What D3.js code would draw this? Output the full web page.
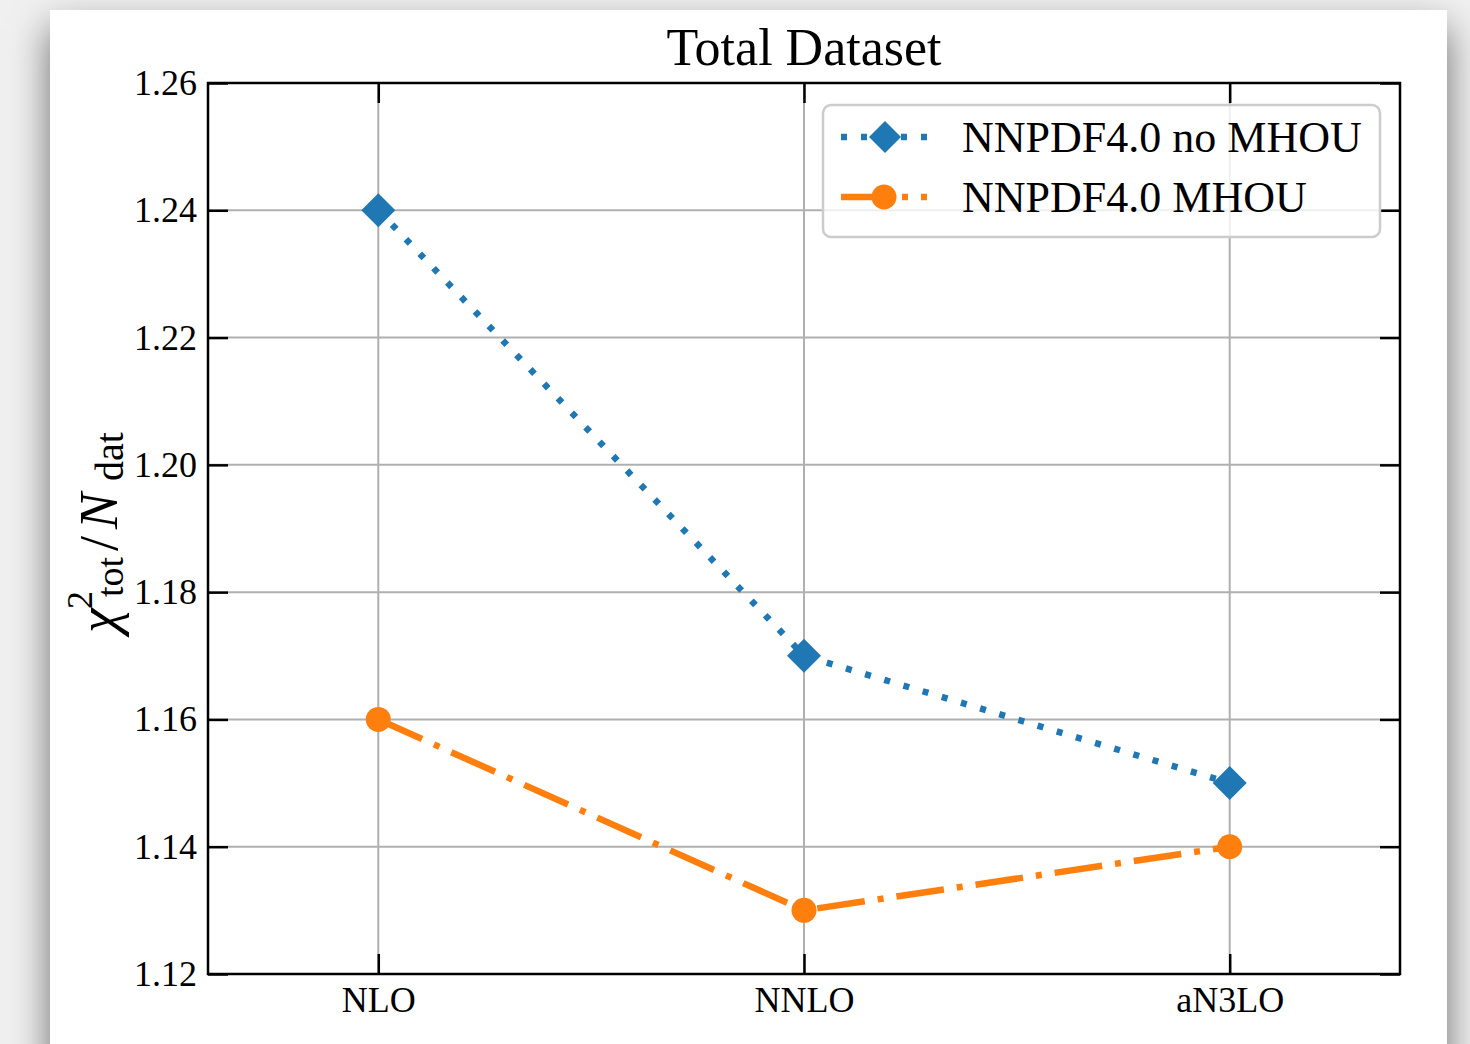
<!DOCTYPE html>
<html>
<head>
<meta charset="utf-8">
<script src="https://cdn.jsdelivr.net/npm/d3@7"></script>
<style>
  html, body { margin: 0; padding: 0; width: 1470px; height: 1044px; overflow: hidden; background: #f0f0f0; }
  #card { position: absolute; left: 50px; top: 10px; width: 1397px; height: 1100px; background: #fff;
          box-shadow: 0 18px 36px rgba(0,0,0,0.55); }
  #chart { position: absolute; left: 0; top: 0; }
  text { font-family: "Liberation Serif", "Times New Roman", serif; fill: #000; }
</style>
</head>
<body>
<div id="card"></div>
<svg id="chart" width="1470" height="1044"></svg>
<script>
const orders = ["NLO", "NNLO", "aN3LO"];
const noMhou = [1.24, 1.17, 1.15];
const mhou = [1.16, 1.13, 1.14];
const yTicks = [1.12, 1.14, 1.16, 1.18, 1.20, 1.22, 1.24, 1.26];
const seriesNames = ["NNPDF4.0 no MHOU", "NNPDF4.0 MHOU"];

const blue = "#1f77b4", orange = "#ff7f0e";
const lw = 6.5;
const dotted = "6,14";
const dashDot = "48,13,6,13";

var margin = { top: 83, right: 70, bottom: 70, left: 208 };
const width = 1470, height = 1044;
const x0 = margin.left, x1 = width - margin.right;
const y0 = margin.top, y1 = height - margin.bottom;

const svg = d3.select("#chart");

// category positions 0..2 with xlim (-0.4, 2.4)
const xScale = d3.scaleLinear().domain([-0.4, orders.length - 1 + 0.4]).range([x0, x1]);
const yScale = d3.scaleLinear().domain([1.12, 1.26]).range([y1, y0]);

// grid
const grid = svg.append("g").attr("stroke", "#b0b0b0").attr("stroke-width", 2);
grid.selectAll(".gx").data(orders).join("line")
  .attr("x1", (d, i) => xScale(i)).attr("x2", (d, i) => xScale(i))
  .attr("y1", y0).attr("y2", y1);
grid.selectAll(".gy").data(yTicks).join("line")
  .attr("x1", x0).attr("x2", x1)
  .attr("y1", d => yScale(d)).attr("y2", d => yScale(d));

// ticks, pointing inward on all four sides
const tickLen = 20;
const idx = orders.map((d, i) => i);
const yAxisL = d3.axisLeft(yScale).tickValues(yTicks).tickSizeInner(-tickLen).tickSizeOuter(0)
  .tickPadding(11).tickFormat(d3.format(".2f"));
const yAxisR = d3.axisRight(yScale).tickValues(yTicks).tickSizeInner(-tickLen).tickSizeOuter(0).tickFormat("");
const xAxisB = d3.axisBottom(xScale).tickValues(idx).tickSizeInner(-tickLen).tickSizeOuter(0)
  .tickPadding(12).tickFormat(i => orders[i]);
const xAxisT = d3.axisTop(xScale).tickValues(idx).tickSizeInner(-tickLen).tickSizeOuter(0).tickFormat("");

function styleAxis(g) {
  g.select(".domain").remove();
  g.selectAll(".tick line").attr("stroke", "#000").attr("stroke-width", 2.5);
  g.selectAll(".tick text").attr("font-size", 36).attr("font-family", "Liberation Serif").attr("fill", "#000");
}
svg.append("g").attr("transform", `translate(${x0},0)`).call(yAxisL).call(styleAxis);
svg.append("g").attr("transform", `translate(${x1},0)`).call(yAxisR).call(styleAxis);
svg.append("g").attr("transform", `translate(0,${y1})`).call(xAxisB).call(styleAxis);
svg.append("g").attr("transform", `translate(0,${y0})`).call(xAxisT).call(styleAxis);

// series lines
const line = d3.line().x((d, i) => xScale(i)).y(d => yScale(d));
svg.append("path").datum(noMhou).attr("d", line).attr("fill", "none")
  .attr("stroke", blue).attr("stroke-width", lw).attr("stroke-dasharray", dotted);
svg.append("path").datum(mhou).attr("d", line).attr("fill", "none")
  .attr("stroke", orange).attr("stroke-width", lw).attr("stroke-dasharray", dashDot);

const diamond = s => `M0,${-s}L${s},0L0,${s}L${-s},0Z`;
svg.selectAll(".dm").data(noMhou).join("path")
  .attr("d", diamond(17)).attr("fill", blue)
  .attr("transform", (d, i) => `translate(${xScale(i)},${yScale(d)})`);
svg.selectAll(".cm").data(mhou).join("circle")
  .attr("cx", (d, i) => xScale(i)).attr("cy", d => yScale(d)).attr("r", 12.5).attr("fill", orange);

// frame
svg.append("rect").attr("x", x0).attr("y", y0).attr("width", x1 - x0).attr("height", y1 - y0)
  .attr("fill", "none").attr("stroke", "#000").attr("stroke-width", 2.5);

// title
svg.append("text").attr("x", (x0 + x1) / 2).attr("y", 65).attr("text-anchor", "middle")
  .attr("font-size", 52).text("Total Dataset");

// y label: chi^2_tot / N_dat, rotated
const yl = svg.append("g").attr("transform", "translate(117,633) rotate(-90)");
yl.append("text").attr("x", 0).attr("y", 0).attr("font-size", 56).attr("font-style", "italic").text("χ");
yl.append("text").attr("x", 24).attr("y", -25).attr("font-size", 36).text("2");
yl.append("text").attr("x", 36).attr("y", 6).attr("font-size", 38).text("tot");
yl.append("text").attr("x", 82).attr("y", 0).attr("font-size", 54).text("/");
yl.append("text").attr("x", 104).attr("y", 0).attr("font-size", 54).attr("font-style", "italic").text("N");
yl.append("text").attr("x", 152).attr("y", 6).attr("font-size", 40).text("dat");

// legend
const leg = svg.append("g");
leg.append("rect").attr("x", 823).attr("y", 105).attr("width", 557).attr("height", 132).attr("rx", 8)
  .attr("fill", "rgba(255,255,255,0.8)").attr("stroke", "#cccccc").attr("stroke-width", 2.5);
const legItems = [
  { name: seriesNames[0], color: blue, dash: dotted, marker: "diamond" },
  { name: seriesNames[1], color: orange, dash: dashDot, marker: "circle" }
];
legItems.forEach((it, i) => {
  const cy = 137 + i * 60;
  leg.append("line").attr("x1", 841).attr("x2", 927).attr("y1", cy).attr("y2", cy)
    .attr("stroke", it.color).attr("stroke-width", lw).attr("stroke-dasharray", it.dash);
  if (it.marker === "diamond")
    leg.append("path").attr("d", diamond(16)).attr("fill", it.color).attr("transform", `translate(885,${cy})`);
  else
    leg.append("circle").attr("cx", 884).attr("cy", cy).attr("r", 12.5).attr("fill", it.color);
  leg.append("text").attr("x", 962).attr("y", cy + 15).attr("font-size", 44).text(it.name);
});
</script>
</body>
</html>
